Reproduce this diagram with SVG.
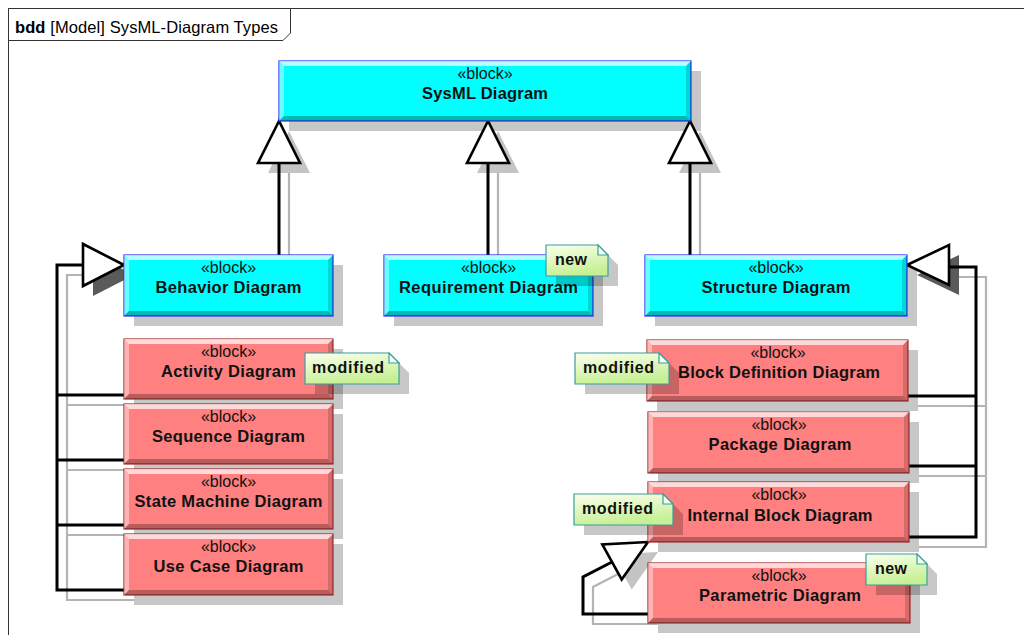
<svg xmlns="http://www.w3.org/2000/svg" width="1024" height="635" viewBox="0 0 1024 635">
  <defs>
    <linearGradient id="noteFill" x1="0" y1="0" x2="0.3" y2="1">
      <stop offset="0" stop-color="#fbffee"/>
      <stop offset="1" stop-color="#c6f095"/>
    </linearGradient>
    <style>
      .frame { fill: none; stroke: #333; stroke-width: 1; }
      .tab { fill: #fff; stroke: #333; stroke-width: 1; }
      .tabtxt { font-family: "Liberation Sans", Arial, sans-serif; font-size: 16.5px; fill: #000; }
      .shadow { fill: #000; fill-opacity: 0.22; }
      .cyan { fill: #00ffff; stroke: #2a2aff; stroke-width: 1.2; }
      .red { fill: #ff8080; stroke: #a02a2a; stroke-width: 1.2; }
      .bt { fill: #fff; fill-opacity: 0.7; }
      .bl { fill: #fff; fill-opacity: 0.4; }
      .bb { fill: #000; fill-opacity: 0.28; }
      .br { fill: #000; fill-opacity: 0.16; }
      .st { font-family: "Liberation Sans", Arial, sans-serif; font-size: 16px; fill: #111; text-anchor: middle; }
      .nm { font-family: "Liberation Sans", Arial, sans-serif; font-size: 16.5px; font-weight: bold; fill: #111; text-anchor: middle; }
      .wire { fill: none; stroke: #000; stroke-width: 3; stroke-linejoin: miter; }
      .wireS { fill: none; stroke: #b4b4b4; stroke-width: 2.2; }
      .head { fill: #fff; stroke: #000; stroke-width: 2.6; stroke-linejoin: miter; }
      .headS { fill: #c4c4c4; }
      .headD { fill: #5a5a5a; }
      .note { fill: url(#noteFill); stroke: #3a9e9e; stroke-width: 1.2; }
      .fold { fill: #f4fff0; stroke: #3a9e9e; stroke-width: 1.2; }
      .ntxt { font-family: "Liberation Sans", Arial, sans-serif; font-size: 16px; font-weight: bold; fill: #111; }
    </style>
  </defs>

  <rect width="1024" height="635" fill="#fff"/>

  <!-- diagram frame with name tab -->
  <g id="frame">
    <rect class="frame" x="8.5" y="8.5" width="1100" height="700"/>
    <path class="tab" d="M8.5,8.5H290.5V33L283,40.5H8.5Z"/>
    <text class="tabtxt" x="15" y="33" textLength="263"><tspan font-weight="bold">bdd</tspan> [Model] SysML-Diagram Types</text>
  </g>

  <!-- block drop shadows -->
  <g id="block-shadows">
    <rect class="shadow" x="289" y="71" width="412" height="60"/>
    <rect class="shadow" x="134" y="265" width="209" height="61"/>
    <rect class="shadow" x="394" y="265" width="209" height="61"/>
    <rect class="shadow" x="655" y="265" width="262" height="61"/>
    <rect class="shadow" x="134" y="349" width="209" height="60"/>
    <rect class="shadow" x="134" y="414" width="209" height="60"/>
    <rect class="shadow" x="134" y="479" width="209" height="60"/>
    <rect class="shadow" x="134" y="544" width="209" height="61"/>
    <rect class="shadow" x="657" y="350" width="261" height="61"/>
    <rect class="shadow" x="658" y="422" width="261" height="61"/>
    <rect class="shadow" x="658" y="492" width="261" height="60"/>
    <rect class="shadow" x="658" y="573" width="262" height="60"/>
  </g>

  <!-- generalization connectors -->
  <g id="connectors">
    <!-- line shadows -->
    <path class="wireS" d="M289,173V265M498,173V265M700,173V265"/>
    <path class="wireS" d="M93,275H67V600H134M67,405H134M67,470H134M67,535H134"/>
    <path class="wireS" d="M959,277H986V547H919M986,406H918M986,476H919"/>
    <path class="wireS" d="M658,624H593V587L622,572"/>
    <!-- arrowhead shadows -->
    <polygon class="headS" points="289,131 268,173 310,173"/>
    <polygon class="headS" points="498,131 477,173 519,173"/>
    <polygon class="headS" points="700,131 679,173 721,173"/>
    <polygon class="headD" points="134,275 93,254 93,296"/>
    <polygon class="headD" points="917,275 959,255 959,295"/>
    <polygon class="headS" points="658,552 612.3,554.5 631.7,589.5"/>
    <!-- lines -->
    <path class="wire" d="M279,163V255M488,163V255M690,163V255"/>
    <path class="wire" d="M83,265H57V590H124M57,395H124M57,460H124M57,525H124"/>
    <path class="wire" d="M949,267H976V537H909M976,396H908M976,466H909"/>
    <path class="wire" d="M648,614H583V577L612,562"/>
    <!-- hollow triangle heads -->
    <polygon class="head" points="279,121 258,163 300,163"/>
    <polygon class="head" points="488,121 467,163 509,163"/>
    <polygon class="head" points="690,121 669,163 711,163"/>
    <polygon class="head" points="124,265 83,244 83,286"/>
    <polygon class="head" points="907,265 949,245 949,285"/>
    <polygon class="head" points="648,542 602.3,544.5 621.7,579.5"/>
  </g>

  <!-- blocks -->
  <g id="sysml-diagram">
    <rect class="cyan" x="279" y="61" width="412" height="60"/>
    <path class="bt" d="M279,61h412l-5,5h-402z"/><path class="bl" d="M279,61l5,5v50l-5,5z"/>
    <path class="bb" d="M279,121h412l-5,-5h-402z"/><path class="br" d="M691,61v60l-5,-5v-50z"/>
    <text class="st" x="485" y="79">«block»</text>
    <text class="nm" x="485" y="99" textLength="126">SysML Diagram</text>
  </g>

  <g id="behavior-diagram">
    <rect class="cyan" x="124" y="255" width="209" height="61"/>
    <path class="bt" d="M124,255h209l-5,5h-199z"/><path class="bl" d="M124,255l5,5v51l-5,5z"/>
    <path class="bb" d="M124,316h209l-5,-5h-199z"/><path class="br" d="M333,255v61l-5,-5v-51z"/>
    <text class="st" x="228.5" y="273">«block»</text>
    <text class="nm" x="228.5" y="293" textLength="146">Behavior Diagram</text>
  </g>

  <g id="requirement-diagram">
    <rect class="cyan" x="384" y="255" width="209" height="61"/>
    <path class="bt" d="M384,255h209l-5,5h-199z"/><path class="bl" d="M384,255l5,5v51l-5,5z"/>
    <path class="bb" d="M384,316h209l-5,-5h-199z"/><path class="br" d="M593,255v61l-5,-5v-51z"/>
    <text class="st" x="488.5" y="273">«block»</text>
    <text class="nm" x="488.5" y="293" textLength="179">Requirement Diagram</text>
  </g>

  <g id="structure-diagram">
    <rect class="cyan" x="645" y="255" width="262" height="61"/>
    <path class="bt" d="M645,255h262l-5,5h-252z"/><path class="bl" d="M645,255l5,5v51l-5,5z"/>
    <path class="bb" d="M645,316h262l-5,-5h-252z"/><path class="br" d="M907,255v61l-5,-5v-51z"/>
    <text class="st" x="776" y="273">«block»</text>
    <text class="nm" x="776" y="293" textLength="149">Structure Diagram</text>
  </g>

  <g id="activity-diagram">
    <rect class="red" x="124" y="339" width="209" height="60"/>
    <path class="bt" d="M124,339h209l-5,5h-199z"/><path class="bl" d="M124,339l5,5v50l-5,5z"/>
    <path class="bb" d="M124,399h209l-5,-5h-199z"/><path class="br" d="M333,339v60l-5,-5v-50z"/>
    <text class="st" x="228.5" y="357">«block»</text>
    <text class="nm" x="228.5" y="377" textLength="135">Activity Diagram</text>
  </g>

  <g id="sequence-diagram">
    <rect class="red" x="124" y="404" width="209" height="60"/>
    <path class="bt" d="M124,404h209l-5,5h-199z"/><path class="bl" d="M124,404l5,5v50l-5,5z"/>
    <path class="bb" d="M124,464h209l-5,-5h-199z"/><path class="br" d="M333,404v60l-5,-5v-50z"/>
    <text class="st" x="228.5" y="422">«block»</text>
    <text class="nm" x="228.5" y="442" textLength="153">Sequence Diagram</text>
  </g>

  <g id="state-machine-diagram">
    <rect class="red" x="124" y="469" width="209" height="60"/>
    <path class="bt" d="M124,469h209l-5,5h-199z"/><path class="bl" d="M124,469l5,5v50l-5,5z"/>
    <path class="bb" d="M124,529h209l-5,-5h-199z"/><path class="br" d="M333,469v60l-5,-5v-50z"/>
    <text class="st" x="228.5" y="487">«block»</text>
    <text class="nm" x="228.5" y="507" textLength="188">State Machine Diagram</text>
  </g>

  <g id="use-case-diagram">
    <rect class="red" x="124" y="534" width="209" height="61"/>
    <path class="bt" d="M124,534h209l-5,5h-199z"/><path class="bl" d="M124,534l5,5v51l-5,5z"/>
    <path class="bb" d="M124,595h209l-5,-5h-199z"/><path class="br" d="M333,534v61l-5,-5v-51z"/>
    <text class="st" x="228.5" y="552">«block»</text>
    <text class="nm" x="228.5" y="572" textLength="150">Use Case Diagram</text>
  </g>

  <g id="block-definition-diagram">
    <rect class="red" x="647" y="340" width="261" height="61"/>
    <path class="bt" d="M647,340h261l-5,5h-251z"/><path class="bl" d="M647,340l5,5v51l-5,5z"/>
    <path class="bb" d="M647,401h261l-5,-5h-251z"/><path class="br" d="M908,340v61l-5,-5v-51z"/>
    <text class="st" x="778" y="358">«block»</text>
    <text class="nm" x="779" y="378" textLength="202">Block Definition Diagram</text>
  </g>

  <g id="package-diagram">
    <rect class="red" x="648" y="412" width="261" height="61"/>
    <path class="bt" d="M648,412h261l-5,5h-251z"/><path class="bl" d="M648,412l5,5v51l-5,5z"/>
    <path class="bb" d="M648,473h261l-5,-5h-251z"/><path class="br" d="M909,412v61l-5,-5v-51z"/>
    <text class="st" x="779" y="430">«block»</text>
    <text class="nm" x="780" y="450" textLength="143">Package Diagram</text>
  </g>

  <g id="internal-block-diagram">
    <rect class="red" x="648" y="482" width="261" height="60"/>
    <path class="bt" d="M648,482h261l-5,5h-251z"/><path class="bl" d="M648,482l5,5v50l-5,5z"/>
    <path class="bb" d="M648,542h261l-5,-5h-251z"/><path class="br" d="M909,482v60l-5,-5v-50z"/>
    <text class="st" x="779" y="500">«block»</text>
    <text class="nm" x="780" y="521" textLength="185">Internal Block Diagram</text>
  </g>

  <g id="parametric-diagram">
    <rect class="red" x="648" y="563" width="262" height="60"/>
    <path class="bt" d="M648,563h262l-5,5h-252z"/><path class="bl" d="M648,563l5,5v50l-5,5z"/>
    <path class="bb" d="M648,623h262l-5,-5h-252z"/><path class="br" d="M910,563v60l-5,-5v-50z"/>
    <text class="st" x="779" y="581">«block»</text>
    <text class="nm" x="780" y="601" textLength="162">Parametric Diagram</text>
  </g>

  <!-- comment notes -->
  <g id="note-activity">
    <path class="shadow" transform="translate(10,10)" d="M305,353H389L399,363V384H305Z"/>
    <path class="note" d="M305,353H389L399,363V384H305Z"/>
    <path class="fold" d="M389,353V363H399Z"/>
    <text class="ntxt" x="312" y="373" textLength="72">modified</text>
  </g>

  <g id="note-requirement">
    <path class="shadow" transform="translate(10,10)" d="M546,245H598L608,255V276H546Z"/>
    <path class="note" d="M546,245H598L608,255V276H546Z"/>
    <path class="fold" d="M598,245V255H608Z"/>
    <text class="ntxt" x="555" y="265" textLength="32">new</text>
  </g>

  <g id="note-bdd">
    <path class="shadow" transform="translate(10,10)" d="M575,353H659L669,363V384H575Z"/>
    <path class="note" d="M575,353H659L669,363V384H575Z"/>
    <path class="fold" d="M659,353V363H669Z"/>
    <text class="ntxt" x="583" y="373" textLength="71">modified</text>
  </g>

  <g id="note-ibd">
    <path class="shadow" transform="translate(10,10)" d="M574,494H663L673,504V525H574Z"/>
    <path class="note" d="M574,494H663L673,504V525H574Z"/>
    <path class="fold" d="M663,494V504H673Z"/>
    <text class="ntxt" x="582" y="514" textLength="71">modified</text>
  </g>

  <g id="note-parametric">
    <path class="shadow" transform="translate(10,10)" d="M866,554H917L927,564V585H866Z"/>
    <path class="note" d="M866,554H917L927,564V585H866Z"/>
    <path class="fold" d="M917,554V564H927Z"/>
    <text class="ntxt" x="875" y="574" textLength="32">new</text>
  </g>
</svg>
